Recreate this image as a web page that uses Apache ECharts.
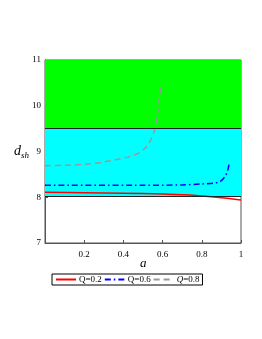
<!DOCTYPE html>
<html><head><meta charset="utf-8">
<script src="https://cdn.jsdelivr.net/npm/echarts@6/dist/echarts.min.js"></script>
<style>html,body{margin:0;padding:0;background:#fff}#c{width:262px;height:339px}</style>
</head><body><div id="c"></div>
<script>
const xTicks = [0, 0.2, 0.4, 0.6, 0.8, 1];
const yTicks = [7, 8, 9, 10, 11];
const band1 = [9.5, 11];
const band2 = [8.02, 9.5];
const q02 = [[0,8.11],[0.2,8.10],[0.4,8.09],[0.6,8.07],[0.74,8.05],[0.9,7.99],[1,7.94]];
const q06 = [[0,8.26],[0.5,8.26],[0.7,8.27],[0.8,8.29],[0.86,8.31],[0.893,8.34],[0.918,8.45],[0.932,8.58],[0.94,8.75]];
const q08 = [[0,8.69],[0.1,8.70],[0.2,8.72],[0.3,8.77],[0.383,8.84],[0.44,8.9],[0.48,8.97],[0.519,9.11],[0.545,9.3],[0.561,9.5],[0.573,9.8],[0.583,10.14],[0.59,10.39]];
const names = ['Q=0.2','Q=0.6','Q=0.8'];
const serif = '"Liberation Serif","DejaVu Serif",serif';
const chart = echarts.init(document.getElementById('c'));
chart.setOption({
  animation:false,
  grid:{left:45,right:21,top:60,bottom:96,show:true,borderColor:'#555',borderWidth:1},
  xAxis:{type:'value',min:0,max:1,interval:0.2,
    axisLine:{show:true,onZero:false,lineStyle:{color:'#555'}},
    axisTick:{show:true,inside:true,length:3,lineStyle:{color:'#555'}},
    splitLine:{show:false},
    axisLabel:{color:'#000',fontFamily:serif,fontSize:9,margin:7,
      formatter:v=>v===0?'':String(v)}},
  yAxis:{type:'value',min:7,max:11,interval:1,
    axisLine:{show:true,lineStyle:{color:'#555'}},
    axisTick:{show:true,inside:true,length:3,lineStyle:{color:'#555'}},
    splitLine:{show:false},
    axisLabel:{color:'#000',fontFamily:serif,fontSize:9,margin:4}},
  legend:{left:52,top:274,itemWidth:20,itemHeight:8,itemGap:2,padding:[1,3],
    borderColor:'#000',borderWidth:1,
    itemStyle:{color:'transparent',borderWidth:0,opacity:0},
    textStyle:{fontFamily:serif,fontSize:9,color:'#000',padding:[0,0,0,-2],rich:{i:{fontStyle:'italic',fontFamily:serif,fontSize:9}}},
    formatter:n=>n===names[2]?'{i|Q}=0.8':n,
    data:names},
  series:[
    {type:'line',data:[],silent:true,
     markArea:{silent:true,data:[
       [{yAxis:band1[0],itemStyle:{color:'#00ff00'}},{yAxis:band1[1]}],
       [{yAxis:band2[0],itemStyle:{color:'#00ffff'}},{yAxis:band2[1]}]]},
     markLine:{silent:true,symbol:'none',label:{show:false},lineStyle:{color:'#222',type:'solid',width:1},
       data:[{yAxis:band1[0]},{yAxis:band2[0]}]}},
    {name:names[0],type:'line',data:q02,symbol:'none',smooth:0.3,lineStyle:{color:'#ff0000',width:1.5},itemStyle:{color:'#ff0000'}},
    {name:names[1],type:'line',data:q06,symbol:'none',smooth:0.3,lineStyle:{color:'#0000ff',width:1.5,type:[6,3,1.5,3]},itemStyle:{color:'#0000ff'}},
    {name:names[2],type:'line',data:q08,symbol:'none',smooth:0.3,lineStyle:{color:'#999999',width:1.5,type:[6,4]},itemStyle:{color:'#999999'}}
  ],
  graphic:[
    {type:'text',left:133,top:93,style:{text:'1σ',font:'12px '+serif,fill:'#000'}},
    {type:'text',left:133,top:150,style:{text:'2σ',font:'12px '+serif,fill:'#000'}},
    {type:'text',left:14,top:144,style:{text:'{d|d}{s|sh}',rich:{d:{font:'italic 14px '+serif,fill:'#000'},s:{font:'italic 9px '+serif,fill:'#000',padding:[10,0,0,0]}}}},
    {type:'text',left:140,top:257,style:{text:'a',font:'italic 13px '+serif,fill:'#000'}}
  ]
});
</script></body></html>
